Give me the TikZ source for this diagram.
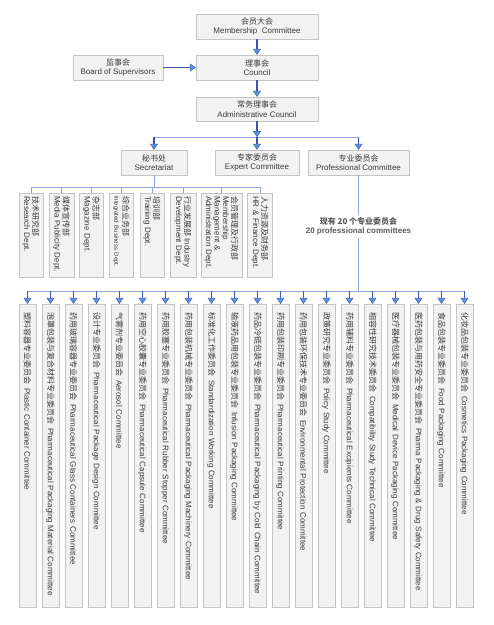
\documentclass[tikz,border=0pt]{standalone}
\usepackage{fontspec}
\setmainfont{Liberation Sans}
\newfontfamily\cjk{Noto Sans CJK SC}
\usepackage{tikz}
\usetikzlibrary{arrows.meta, positioning, calc}
\definecolor{BoxFill}{HTML}{F2F2F2}
\definecolor{BoxLine}{HTML}{C4C4C4}
\definecolor{TextGray}{HTML}{3A3A3A}
\definecolor{NoteGray}{HTML}{5A5A5A}
\definecolor{ArrowBlue}{HTML}{3D55B0}
\definecolor{HeadBlue}{HTML}{5A90DA}
\definecolor{LinkBlue}{HTML}{8CA5DA}
\newcommand{\zh}[1]{{\cjk #1}}

\begin{document}
\begin{tikzpicture}[
    x=1pt, y=-1pt,
    unit/.style={rectangle, draw=BoxLine, fill=BoxFill, minimum height=25pt,
                 inner sep=1pt, align=center, text=TextGray,
                 font=\fontsize{8}{9.5}\selectfont},
    dept/.style={rectangle, draw=BoxLine, fill=BoxFill, rotate=-90,
                 text width=78pt, inner xsep=3pt, inner ysep=1pt, align=left,
                 text=TextGray, font=\fontsize{8}{8.5}\selectfont},
    cmte/.style={rectangle, draw=BoxLine, fill=BoxFill, rotate=-90,
                 text width=287pt, inner xsep=8pt, inner ysep=1pt, align=left,
                 minimum height=17pt, text=TextGray, font=\fontsize{8}{9}\selectfont},
    tally/.style={align=center, text=NoteGray, inner sep=3pt,
                  font=\fontsize{8}{9}\selectfont\bfseries},
    arr/.style={ArrowBlue, line width=1.5pt,
                -{Triangle[width=8pt, length=6pt, line width=0.4pt, fill=HeadBlue]}},
    link/.style={LinkBlue, line width=0.8pt}
]
    \useasboundingbox (0,0) rectangle (494,625);

    % Governing bodies
    \node[unit, minimum width=122pt] at (257,26.5) (member) {\zh{会员大会}\\Membership\ \ Committee};
    \node[unit, minimum width=122pt] at (257,67.5) (council) {\zh{理事会}\\Council};
    \node[unit, minimum width=90pt] at (118,67.5) (board) {\zh{监事会}\\Board of Supervisors};
    \node[unit, minimum width=122pt, minimum height=24pt] at (257,109) (admin) {\zh{常务理事会}\\Administrative Council};

    % Second level
    \node[unit, minimum width=66pt] at (154,162.5) (secr) {\zh{秘书处}\\Secretariat};
    \node[unit, minimum width=84pt] at (257,162.5) (expert) {\zh{专家委员会}\\Expert Committee};
    \node[unit, minimum width=101pt] at (358.5,162.5) (prof) {\zh{专业委员会}\\Professional Committee};

    \draw[arr] (member) -- (council);
    \draw[arr] (council) -- (admin);
    \draw[arr] (board) -- (council);

    \coordinate (jct) at (257,137);
    \draw[arr] (admin) -- (jct);
    \draw[link] (secr |- jct) -- (prof |- jct);
    \foreach \n in {secr,expert,prof} {
        \draw[arr] (\n |- jct) -- (\n);
    }

    % Departments of the secretariat
    \node[dept, minimum height=24pt] at (31,235) (research) {\zh{技术研究部}\\Research Dept.};
    \node[dept, minimum height=25pt] at (61.5,235) (media) {\zh{媒体宣传部}\\Media Publicity Dept.};
    \node[dept, minimum height=24pt] at (91.5,235) (magazine) {\zh{杂志部}\\Magazine Dept.};
    \node[dept, minimum height=24pt] at (121.5,235) (business) {\zh{综合业务部}\\{\fontsize{6}{7}\selectfont Integrated Business Dept.}};
    \node[dept, minimum height=24pt] at (152,235) (training) {\zh{培训部}\\Training Dept.};
    \node[dept, minimum height=26pt] at (183,235) (industry) {\zh{行业发展部} Industry\\Development Dept.};
    \node[dept, minimum height=41pt] at (221.5,235) (memberdept) {\zh{会员管理及行政部}\\Membership\\Management \&\\Administration Dept.};
    \node[dept, minimum height=25pt] at (260,235) (hrdept) {\zh{人力资源及财务部}\\HR \& Finance Dept.};

    \coordinate (sbus) at (154,187);
    \draw[link] (secr) -- (sbus);
    \draw[link] (research.west |- sbus) -- (hrdept.west |- sbus);
    \foreach \d in {research,media,magazine,business,training,industry,memberdept,hrdept} {
        \draw[link] (\d.west |- sbus) -- (\d.west);
    }

    % Professional committees
    \node[tally] at (358.5,226.5) (count) {\zh{现有 20 个专业委员会}\\20 professional committees};

    \foreach \cname/\ename [count=\i] in {
        塑料容器专业委员会/Plastic Container Committee,
        泡罩包装与复合材料专业委员会/Pharmaceutical Packaging Material Committee,
        药用玻璃容器专业委员会/Pharmaceutical Glass Containers Committee,
        设计专业委员会/Pharmaceutical Package Design Committee,
        气雾剂专业委员会/Aerosol Committee,
        药用空心胶囊专业委员会/Pharmaceutical Capsule Committee,
        药用胶塞专业委员会/Pharmaceutical Rubber Stopper Committee,
        药用包装机械专业委员会/Pharmaceutical Packaging Machinery Committee,
        标准化工作委员会/Standardization Working Committee,
        输液药品用包装专业委员会/Infusion Packaging Committee,
        药品冷链包装专业委员会/Pharmaceutical Packaging by Cold Chain Committee,
        药用包装印刷专业委员会/Pharmaceutical Printing Committee,
        药用包装环保技术专业委员会/Environmental Protection Committee,
        政策研究专业委员会/Policy Study Committee,
        药用辅料专业委员会/Pharmaceutical Excipients Committee,
        相容性研究技术委员会/Compatibility Study Technical Committee,
        医疗器械包装专业委员会/Medical Device Packaging Committee,
        医药包装与用药安全专业委员会/Pharma Packaging \& Drug Safety Committee,
        食品包装专业委员会/Food Packaging Committee,
        化妆品包装专业委员会/Cosmetics Packaging Committee} {
        \node[cmte] at ({4.5+23*\i},455.5) (c\i) {\zh{\cname}\hspace{4pt}\ename};
    }

    \coordinate (pbus) at (358.5,291);
    \draw[link] (prof) -- (count);
    \draw[link] (count) -- (pbus);
    \draw[link] (c1.west |- pbus) -- (c20.west |- pbus);
    \foreach \i in {1,...,20} {
        \draw[arr, line width=1.2pt] (c\i.west |- pbus) -- (c\i.west);
    }
\end{tikzpicture}
\end{document}
